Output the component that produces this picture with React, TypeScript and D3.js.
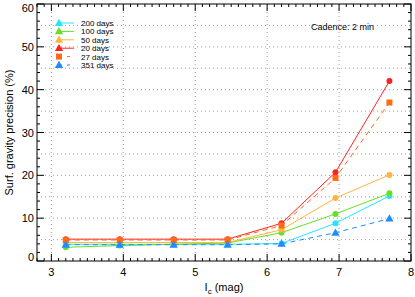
import React from 'react';
import * as d3 from 'd3';

const magnitudes = [3.2, 3.95, 4.7, 5.45, 6.2, 6.95, 7.7];

const labels = ['200 days', '100 days', '50 days', '20 days', '27 days', '351 days'];
const colors = ['#22e6ff', '#66e022', '#ffb43a', '#ff2222', '#ff6a14', '#1e8cff'];
const markers = ['circle', 'circle', 'circle', 'circle', 'square', 'triangle'];
const dashed = [false, false, false, false, true, true];

const days200 = [3.9, 3.9, 3.9, 3.9, 4.1, 8.8, 15.2];
const days100 = [3.2, 3.6, 3.9, 4.2, 6.6, 11.0, 15.8];
const days50 = [4.3, 4.3, 4.3, 4.3, 7.3, 14.7, 20.1];
const days20 = [5.1, 5.1, 5.1, 5.1, 8.8, 20.7, 42.0];
const days27 = [4.9, 4.9, 4.9, 4.9, 8.3, 19.4, 37.0];
const days351 = [3.8, 3.8, 3.8, 3.8, 4.0, 6.6, 9.9];

const series = [days200, days100, days50, days20, days27, days351];

const xTicks = [3, 4, 5, 6, 7, 8];
const yTicks = [0, 10, 20, 30, 40, 50, 60];

const width = 415;
const height = 297;
const margin = { top: 4, right: 4, bottom: 36, left: 37 };

const App = () => {
  const x = d3.scaleLinear().domain([2.8, 8]).range([margin.left, width - margin.right]);
  const y = d3.scaleLinear().domain([0, 60]).range([height - margin.bottom, margin.top]);
  const [x0, x1] = x.range();
  const [y0, y1] = y.range();

  const line = d3.line<number>()
    .x((_, i) => x(magnitudes[i]))
    .y(d => y(d));

  const xMinor = d3.range(28, 81).map(v => v / 10);
  const yMinor = d3.range(0, 61, 2);
  const xGrid = xTicks.filter(v => v < 8);
  const yGrid = d3.range(5, 60, 5);

  const tri = d3.symbol(d3.symbolTriangle, 30)()!;

  const drawMarker = (kind: string, cx: number, cy: number, color: string, key: string | number) => {
    if (kind === 'circle') return <circle key={key} cx={cx} cy={cy} r={3} fill={color} />;
    if (kind === 'square') return <rect key={key} x={cx - 3} y={cy - 3} width={6} height={6} fill={color} />;
    return <path key={key} d={tri} transform={`translate(${cx},${cy + 0.5})`} fill={color} />;
  };

  // IDL-style end labels sit inside the axis span
  const yLabelPos = (v: number) => {
    if (v === 0) return y(v);
    if (v === 60) return y(v) + 8;
    return y(v) + 4;
  };

  const font = 'Liberation Sans, Arial, sans-serif';

  return (
    <svg width={width} height={height} style={{ position: 'absolute', left: 0, top: 0 }} fontFamily={font}>
      <rect width={width} height={height} fill="white" />
      {/* grid */}
      <g stroke="#888" strokeWidth={0.8} strokeDasharray="1,3">
        {xGrid.map(v => <line key={'gx' + v} x1={x(v)} x2={x(v)} y1={y0} y2={y1} />)}
        {yGrid.map(v => <line key={'gy' + v} x1={x0} x2={x1} y1={y(v)} y2={y(v)} />)}
      </g>
      {/* series */}
      {series.map((s, k) => (
        <g key={labels[k]}>
          <path d={line(s)!} fill="none" stroke={colors[k]} strokeWidth={1}
            strokeDasharray={dashed[k] ? '5,4' : undefined} />
          {s.map((v, i) => drawMarker(markers[k], x(magnitudes[i]), y(v), colors[k], i))}
        </g>
      ))}
      {/* frame and ticks */}
      <g stroke="black" strokeWidth={1}>
        <rect x={x0} y={y1} width={x1 - x0} height={y0 - y1} fill="none" />
        {xMinor.map(v => {
          const len = Math.abs(v - Math.round(v)) < 1e-6 ? 7 : 3;
          return (
            <g key={'xt' + v}>
              <line x1={x(v)} x2={x(v)} y1={y0} y2={y0 - len} />
              <line x1={x(v)} x2={x(v)} y1={y1} y2={y1 + len} />
            </g>
          );
        })}
        {yMinor.map(v => {
          const len = v % 10 === 0 ? 7 : 3;
          return (
            <g key={'yt' + v}>
              <line x1={x0} x2={x0 + len} y1={y(v)} y2={y(v)} />
              <line x1={x1} x2={x1 - len} y1={y(v)} y2={y(v)} />
            </g>
          );
        })}
      </g>
      {/* tick labels */}
      <g fontSize={11} fill="black">
        {xTicks.map(v => (
          <text key={'xl' + v} x={x(v)} y={y0 + 15} textAnchor="middle">{v}</text>
        ))}
        {yTicks.map(v => (
          <text key={'yl' + v} x={x0 - 3} y={yLabelPos(v)} textAnchor="end">{v}</text>
        ))}
      </g>
      {/* axis titles */}
      <text x={(x0 + x1) / 2} y={height - 6} fontSize={11} textAnchor="middle">
        I<tspan fontSize={8} dy={3}>c</tspan><tspan dy={-3}> (mag)</tspan>
      </text>
      <text transform={`translate(13,${(y0 + y1) / 2}) rotate(-90)`} fontSize={11} textAnchor="middle">
        Surf. gravity precision (%)
      </text>
      <text x={311} y={30} fontSize={9}>Cadence: 2 min</text>
      {/* legend */}
      <g fontSize={8}>
        {labels.map((lab, k) => {
          const ly = 23 + k * 8.4;
          return (
            <g key={'lg' + lab}>
              <line x1={59} x2={74} y1={ly} y2={ly} stroke={colors[k]} strokeWidth={1}
                strokeDasharray={dashed[k] ? '3,5' : undefined} />
              {drawMarker(k === 4 ? 'square' : 'triangle', 59, ly, colors[k], 'm')}
              <text x={81} y={ly + 3}>{lab}</text>
            </g>
          );
        })}
      </g>
    </svg>
  );
};

export default App;
